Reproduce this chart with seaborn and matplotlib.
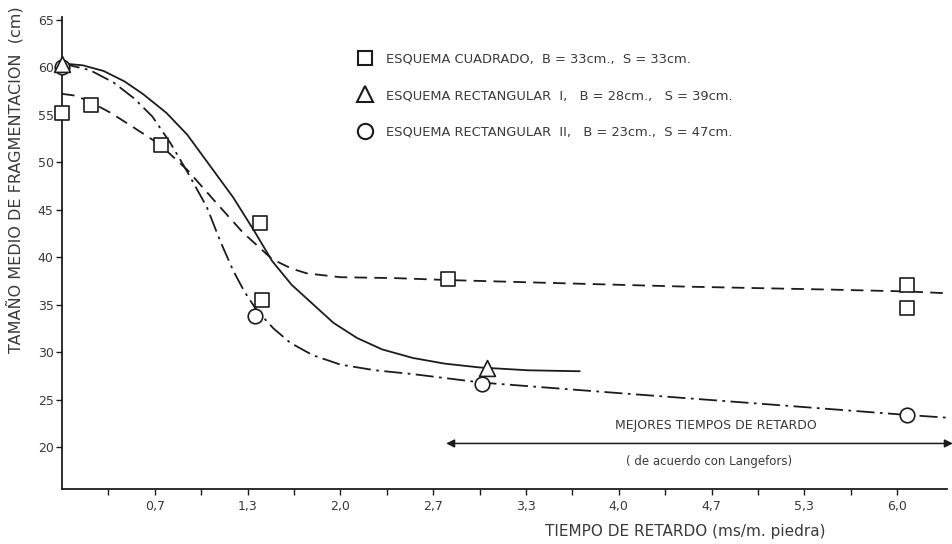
import numpy as np
import pandas as pd
import matplotlib.pyplot as plt
from matplotlib.lines import Line2D
from matplotlib.ticker import FixedLocator
import seaborn as sns

# values (x in ms/m piedra, y in cm)
cuad_x = [0.0, 0.21, 0.71, 1.42, 1.44, 2.77, 6.07, 6.07]
cuad_y = [55.2, 56.0, 51.8, 43.6, 35.5, 37.7, 37.1, 34.7]

rect1_x = [0.0, 3.05]
rect1_y = [60.3, 28.3]

rect2_x = [0.0, 1.39, 3.02, 6.07]
rect2_y = [60.0, 33.8, 26.7, 23.4]

# hand drawn trend curves
curve_cuad_x = [0.0, 0.1, 0.21, 0.35, 0.5, 0.7, 0.9, 1.08, 1.3, 1.51, 1.65, 1.76, 2.0, 2.4, 2.77, 3.5, 4.5, 5.5, 6.07, 6.37]
curve_cuad_y = [57.2, 57.0, 56.3, 55.2, 53.8, 51.9, 49.2, 46.2, 42.6, 39.8, 38.8, 38.3, 37.9, 37.8, 37.6, 37.3, 36.9, 36.6, 36.4, 36.2]

curve_r1_x = [0.0, 0.15, 0.3, 0.45, 0.58, 0.75, 0.9, 1.04, 1.23, 1.38, 1.51, 1.65, 1.8, 1.95, 2.12, 2.3, 2.52, 2.75, 3.0, 3.35, 3.72]
curve_r1_y = [60.4, 60.2, 59.6, 58.5, 57.2, 55.2, 52.9, 50.1, 46.3, 42.8, 39.6, 37.1, 35.1, 33.1, 31.5, 30.3, 29.4, 28.8, 28.4, 28.1, 28.0]

curve_r2_x = [0.0, 0.2, 0.37, 0.52, 0.65, 0.78, 0.9, 1.04, 1.14, 1.23, 1.31, 1.4, 1.52, 1.64, 1.8, 2.0, 2.25, 2.52, 3.02, 4.0, 5.0, 6.07, 6.37]
curve_r2_y = [60.4, 59.7, 58.4, 56.7, 54.8, 52.0, 49.0, 45.3, 41.6, 38.6, 36.4, 34.4, 32.5, 31.0, 29.7, 28.7, 28.1, 27.7, 26.8, 25.7, 24.6, 23.4, 23.1]

x_tick_labels = ["0,7", "1,3", "2,0", "2,7", "3,3", "4,0", "4,7", "5,3", "6,0"]
y_ticks = [20, 25, 30, 35, 40, 45, 50, 55, 60, 65]

legend_labels = [
    "ESQUEMA CUADRADO,  B = 33cm.,  S = 33cm.",
    "ESQUEMA RECTANGULAR  I,   B = 28cm.,   S = 39cm.",
    "ESQUEMA RECTANGULAR  II,   B = 23cm.,  S = 47cm.",
]

ink = "#1c1c1c"
text_col = "#3a3a3a"

sns.set_style("ticks")
plt.rcParams["font.family"] = ["DejaVu Sans"]

fig = plt.figure(figsize=(9.53, 5.44), dpi=100)
ax = fig.add_axes([0.065, 0.101, 0.929, 0.868])

# curves
sns.lineplot(x=curve_cuad_x, y=curve_cuad_y, ax=ax, color=ink, lw=1.3, sort=False)
ax.lines[-1].set_dashes([7, 4])
sns.lineplot(x=curve_r1_x, y=curve_r1_y, ax=ax, color=ink, lw=1.3, sort=False)
sns.lineplot(x=curve_r2_x, y=curve_r2_y, ax=ax, color=ink, lw=1.3, sort=False)
ax.lines[-1].set_dashes([10, 3, 1.5, 3])

# measured points
sns.scatterplot(x=rect2_x, y=rect2_y, ax=ax, marker="o", s=110, facecolor="white",
                edgecolor=ink, linewidth=1.2, zorder=4, clip_on=False)
sns.scatterplot(x=cuad_x, y=cuad_y, ax=ax, marker="s", s=100, facecolor="white",
                edgecolor=ink, linewidth=1.2, zorder=4, clip_on=False)
sns.scatterplot(x=rect1_x, y=rect1_y, ax=ax, marker="^", s=130, facecolor="white",
                edgecolor=ink, linewidth=1.2, zorder=5, clip_on=False)

# axes
ax.set_xlim(0, 6.36)
ax.set_ylim(15.6, 65.3)
sns.despine(ax=ax)
for s in ["left", "bottom"]:
    ax.spines[s].set_color(ink)
    ax.spines[s].set_linewidth(1.3)

major = [(i + 1) * 2 / 3 for i in range(len(x_tick_labels))]
ax.xaxis.set_major_locator(FixedLocator(major))
ax.xaxis.set_minor_locator(FixedLocator([m - 1 / 3 for m in major]))
ax.set_xticklabels(x_tick_labels)
ax.set_yticks(y_ticks)
ax.set_yticklabels([str(v) for v in y_ticks])
ax.tick_params(axis="both", which="both", length=4, width=1, color=ink,
               labelsize=9, labelcolor=text_col, pad=4)
ax.tick_params(axis="y", pad=2)

ax.set_xlabel("TIEMPO DE RETARDO (ms/m. piedra)", fontsize=11, color=text_col)
ax.xaxis.set_label_coords(0.704, -0.075)
ax.set_ylabel("TAMAÑO MEDIO DE FRAGMENTACION  (cm)", fontsize=11.5, color=text_col)
ax.yaxis.set_label_coords(-0.043, 0.655)

# double arrow annotation
ax.annotate("", xy=(6.4, 20.4), xytext=(2.76, 20.4), annotation_clip=False,
            arrowprops=dict(arrowstyle="<|-|>", color=ink, lw=1.1,
                            mutation_scale=12, shrinkA=0, shrinkB=0))
ax.text(4.7, 21.6, "MEJORES TIEMPOS DE RETARDO", ha="center", va="bottom",
        fontsize=9, color=text_col)
ax.text(4.65, 19.2, "( de acuerdo con Langefors)", ha="center", va="top",
        fontsize=8.5, color=text_col)

# legend
handles = [
    Line2D([], [], ls="none", marker="s", ms=10, mfc="white", mec=ink, mew=1.5),
    Line2D([], [], ls="none", marker="^", ms=12, mfc="white", mec=ink, mew=1.5),
    Line2D([], [], ls="none", marker="o", ms=11, mfc="white", mec=ink, mew=1.5),
]
leg = ax.legend(handles, legend_labels, loc="upper left", bbox_to_anchor=(351 / 953, 1 - 46 / 544),
                bbox_transform=fig.transFigure, frameon=False, fontsize=9.4,
                labelspacing=1.8, handletextpad=1.0, handlelength=1.2, borderpad=0)
for t in leg.get_texts():
    t.set_color(text_col)

fig.savefig("out.png", dpi=100)
